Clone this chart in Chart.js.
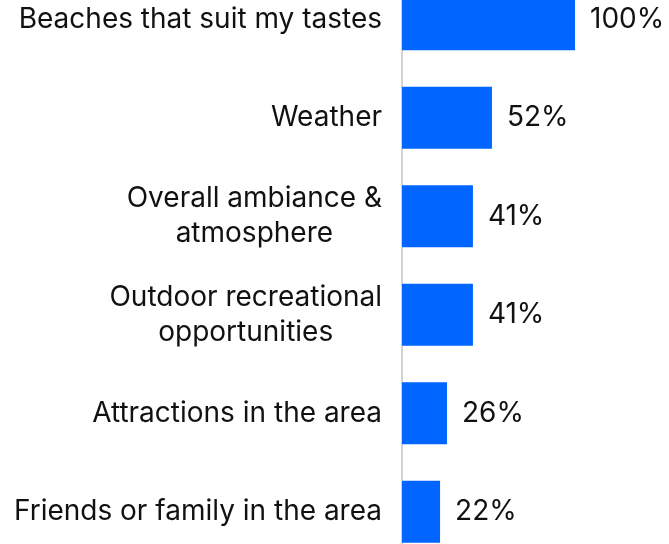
<!DOCTYPE html>
<html>
<head>
<meta charset="utf-8">
<script src="https://cdn.jsdelivr.net/npm/chart.js@4.4.0/dist/chart.umd.min.js"></script>
<style>
    html, body { margin: 0; padding: 0; background: #fff; }
    #frame { position: relative; width: 669px; height: 544px; overflow: hidden; }
    #wrap { position: absolute; left: 0; top: -30px; width: 669px; height: 591px; }
</style>
</head>
<body>
<div id="frame"><div id="wrap"><canvas id="chart"></canvas></div></div>
<script>
// Données
const categories = [
    ['Beaches that suit my tastes'],
    ['Weather'],
    ['Overall ambiance &', 'atmosphere'],
    ['Outdoor recreational', 'opportunities'],
    ['Attractions in the area'],
    ['Friends or family in the area']
];
const percentages = [100, 52, 41, 41, 26, 22];

const FONT = '28px Inter, "Liberation Sans", sans-serif';
const TEXT_COLOR = '#111111';
const BAR_COLOR = '#0066ff';

// Libellés des catégories (centrés ligne par ligne, bloc aligné à droite) et valeurs
const labelPlugin = {
    id: 'sideLabels',
    afterDraw(chart) {
        const ctx = chart.ctx;
        const yScale = chart.scales.y;
        const xScale = chart.scales.x;
        const lineHeight = 35;
        ctx.save();
        ctx.font = FONT;
        ctx.fillStyle = TEXT_COLOR;
        ctx.textBaseline = 'middle';
        ctx.textAlign = 'center';
        categories.forEach(function(lines, i) {
            const cy = yScale.getPixelForValue(i);
            const w = Math.max.apply(null, lines.map(l => ctx.measureText(l).width));
            const cx = chart.chartArea.left - 20 - w / 2;
            lines.forEach(function(line, j) {
                ctx.fillText(line, cx, cy + (j - (lines.length - 1) / 2) * lineHeight);
            });
        });
        ctx.textAlign = 'left';
        percentages.forEach(function(v, i) {
            ctx.fillText(v + '%', xScale.getPixelForValue(v) + 15, yScale.getPixelForValue(i));
        });
        ctx.restore();
    }
};

new Chart(document.getElementById('chart'), {
    type: 'bar',
    data: {
        labels: categories,
        datasets: [{
            data: percentages,
            backgroundColor: BAR_COLOR,
            barPercentage: 0.63,
            categoryPercentage: 1
        }]
    },
    options: {
        indexAxis: 'y',
        responsive: true,
        maintainAspectRatio: false,
        animation: false,
        layout: { padding: { left: 0, right: 94, top: 0, bottom: 0 } },
        plugins: {
            legend: { display: false },
            tooltip: { enabled: false }
        },
        scales: {
            x: { display: false, min: 0, max: 100 },
            y: {
                grid: { display: false },
                border: { display: true, color: '#d4d4d4', width: 2 },
                ticks: { display: false },
                afterFit: function(scale) { scale.width = 402; }
            }
        }
    },
    plugins: [labelPlugin]
});
</script>
</body>
</html>
